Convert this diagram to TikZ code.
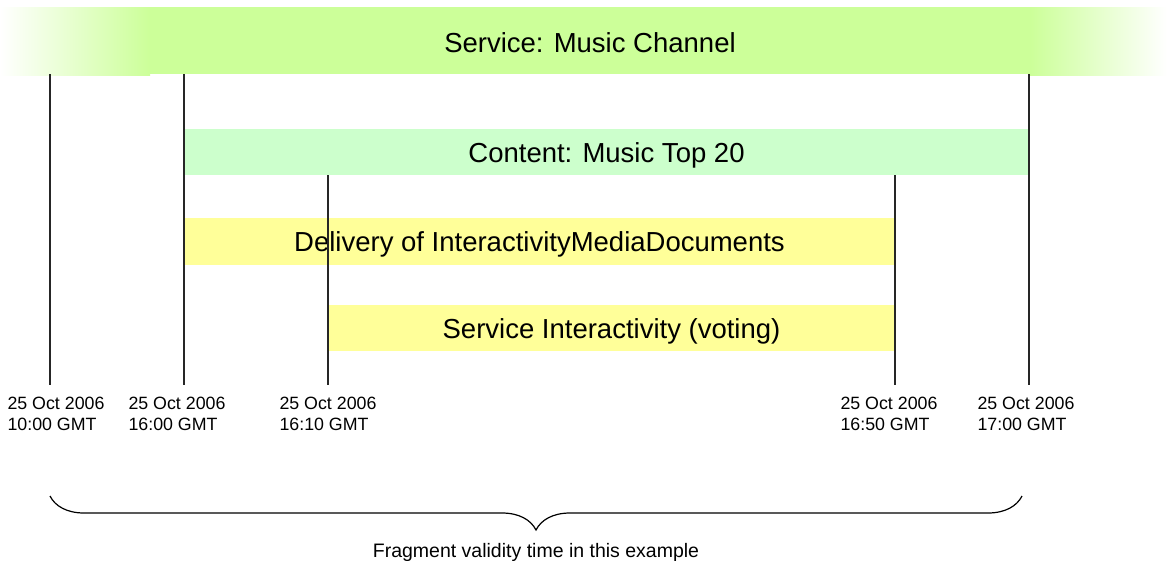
\documentclass[tikz,border=0pt]{standalone}
\usepackage{fontspec}
\setmainfont{Liberation Sans}
\usetikzlibrary{decorations.pathreplacing}
\definecolor{servicegreen}{HTML}{CCFF99}
\definecolor{contentgreen}{HTML}{CCFFCC}
\definecolor{deliveryyellow}{HTML}{FFFF99}
\begin{document}
\begin{tikzpicture}[x=1pt,y=-1pt,
	band/.style={inner sep=0pt,text height=20pt,text depth=0pt,font=\fontsize{27.5}{32}\selectfont},
	tick/.style={line width=1.3pt,black!85},
	datelbl/.style={anchor=north,align=left,inner sep=0pt,font=\fontsize{17.8}{20.6}\selectfont}]
	\useasboundingbox (0,0) rectangle (1167,560);
	% service band, faded at both ends
	\shade[left color=white,right color=servicegreen] (0,7) rectangle (150,75);
	\fill[servicegreen] (150,7) rectangle (1030,74);
	\shade[left color=servicegreen,right color=white] (1030,7) rectangle (1167,75);
	\node[band,anchor=base] (service) at (590,52) {Service: Music Channel};
	\node[band,fill=contentgreen,minimum width=845pt,minimum height=46pt] (content) at (606.5,152) {Content: Music Top 20};
	\node[band,fill=deliveryyellow,minimum width=711pt,minimum height=47pt] (delivery) at (539.5,241.5) {Delivery of InteractivityMediaDocuments};
	\node[band,fill=deliveryyellow,minimum width=567pt,minimum height=46pt] (voting) at (611.5,328) {Service Interactivity (voting)};
	% time marks
	\foreach \x/\y in {50/74,184/74,1029/74,328/175,895/175}
	\draw[tick] (\x,\y) -- (\x,385);
	\foreach \i/\x/\t in {1/56/10:00,2/177/16:00,3/328/16:10,4/889/16:50,5/1026/17:00}
	\node[datelbl] (date\i) at (\x,397) {25 Oct 2006\\\t\ GMT};
	% validity brace
	\path (50,496) coordinate (bl) (1022,496) coordinate (br);
	\draw[decorate,decoration={brace,mirror,amplitude=34pt},line width=1.2pt] (bl) -- (br);
	\node[anchor=base,inner sep=0pt,font=\fontsize{19.5}{22}\selectfont] (caption) at (536,557) {Fragment validity time in this example};
\end{tikzpicture}
\end{document}
